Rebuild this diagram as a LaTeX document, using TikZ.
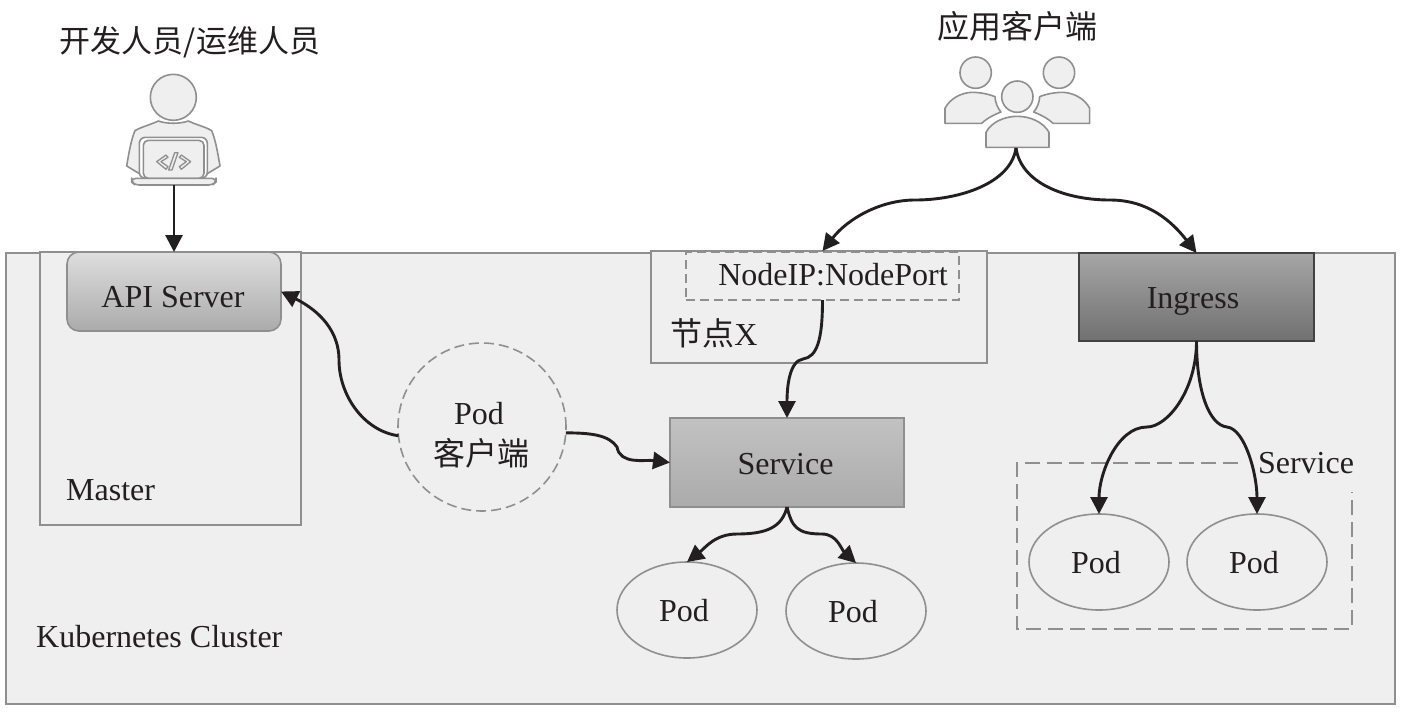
\documentclass[tikz,border=0pt]{standalone}
\usepackage{fontspec}
\setmainfont{Liberation Serif}
\newfontfamily\cjk{Noto Sans CJK SC}
\usetikzlibrary{arrows.meta,shapes.geometric}
\definecolor{ink}{HTML}{231F20}
\definecolor{edgegray}{HTML}{8F8F8F}
\definecolor{panel}{HTML}{EFEFEF}
\tikzset{
  lbl/.style={inner sep=0pt,text=ink,font=\fontsize{32}{37}\selectfont},
  boxbase/.style={draw=edgegray,line width=1.6pt,minimum width=0pt,inner sep=0pt,outer sep=0pt},
  conn/.style={draw=ink,line width=2.9pt,-{Triangle[length=17pt,width=17pt]}},
  podshape/.style={ellipse,draw=edgegray,fill=panel,line width=1.6pt,minimum width=140pt,minimum height=96pt,inner sep=0pt,outer sep=0pt,lbl},
  icon/.style={draw=edgegray,fill=panel,line width=1.6pt,line join=round},
}
\newcommand{\podtext}{\hspace*{-6pt}\raisebox{-11.5pt}[0pt][0pt]{Pod}}
\begin{document}
\begin{tikzpicture}[x=1pt,y=-1pt]
\useasboundingbox (0,0) rectangle (1402,713);
% panels
\node[boxbase,fill=panel,anchor=north west,minimum width=1389pt,minimum height=451pt] (cluster) at (6,253) {};
\node[boxbase,fill=panel,anchor=north west,minimum width=261pt,minimum height=273pt] (master) at (40,252) {};
\node[boxbase,fill=panel,anchor=north west,minimum width=336pt,minimum height=112pt] (nodex) at (651,251) {};
\node[boxbase,dash pattern=on 9pt off 5pt,fill=panel,anchor=north west,minimum width=273pt,minimum height=48pt] (nodeport) at (686,252) {};
\node[boxbase,rounded corners=12pt,top color=black!13,bottom color=black!33,anchor=north west,minimum width=214pt,minimum height=79pt,lbl] (api) at (67,252) {\hspace*{-2pt}\raisebox{-15.5pt}[0pt][0pt]{API Server}};
\node[boxbase,top color=black!24,bottom color=black!33,anchor=north west,minimum width=234pt,minimum height=89pt,lbl] (service) at (670,418) {\hspace*{-3pt}\raisebox{-11.5pt}[0pt][0pt]{Service}};
\node[boxbase,draw=ink!85,line width=2.2pt,top color=black!35,bottom color=black!56,anchor=north west,minimum width=235pt,minimum height=88pt,lbl] (ingress) at (1079,253) {\hspace*{-7pt}\raisebox{-11pt}[0pt][0pt]{Ingress}};
\node[circle,draw=edgegray,dash pattern=on 10pt off 5pt,line width=1.6pt,fill=panel,minimum size=168pt,inner sep=0pt,outer sep=0pt] (podclient) at (482,427) {};
% texts
\node[lbl,font=\fontsize{31}{36}\selectfont] (t1) at (190,42) {\cjk 开发人员/运维人员};
\node[lbl] (t2) at (1017,26) {\cjk 应用客户端};
\node[lbl] (t3) at (833,275) {NodeIP:NodePort};
\node[lbl] (t4) at (714,333) {{\cjk 节点}X};
\node[lbl] (t5) at (479,414) {Pod};
\node[lbl] (t6) at (481,453) {\cjk 客户端};
\node[lbl,anchor=west] (t7) at (66,490) {Master};
\node[lbl,anchor=west] (t8) at (36,637) {Kubernetes Cluster};
\node[lbl] (t9) at (1306,463) {Service};
% pods
\node[podshape] (p1) at (687,610) {\podtext};
\node[podshape] (p2) at (856,611) {\podtext};
\node[podshape] (p3) at (1099,562) {\podtext};
\node[podshape] (p4) at (1257,562) {\podtext};
% dashed service group
\coordinate (g1) at (1238,463);
\coordinate (g2) at (1017,463);
\coordinate (g3) at (1017,629);
\coordinate (g4) at (1352,629);
\coordinate (g5) at (1352,492);
\draw[draw=edgegray,line width=1.8pt,dash pattern=on 15pt off 7pt] (g1) -- (g2) -- (g3) -- (g4) -- (g5);
% developer icon
\begin{scope}[shift={(100,60)},x=0.3333pt,y=-0.3333pt]
  \draw[icon] (125,345) -- (80,318) .. controls (88,270) and (95,235) .. (105,212) .. controls (125,200) and (150,195) .. (175,183) .. controls (200,192) and (240,192) .. (265,183) .. controls (290,195) and (315,200) .. (335,212) .. controls (345,235) and (352,270) .. (360,318) -- (315,345) -- cycle;
  \draw[icon,fill=white,rounded corners=6pt] (118,355) -- (118,232) -- (322,232) -- (322,355) -- cycle;
  \draw[icon,rounded corners=5pt] (130,355) -- (130,241) -- (312,241) -- (312,355) -- cycle;
  \draw[icon,rounded corners=4pt] (95,355) -- (348,355) -- (348,366) -- (338,375) -- (105,375) -- (95,366) -- cycle;
  \draw[icon] (220,112) circle[radius=69];
  \draw[icon,fill=none,line width=1.3pt] (198,285) -- (170,305) -- (198,328) -- (204,320) -- (183,305) -- (204,292) -- cycle;
  \draw[icon,fill=none,line width=1.3pt] (244,285) -- (272,305) -- (244,328) -- (238,320) -- (259,305) -- (238,292) -- cycle;
  \draw[icon,fill=none,line width=1.3pt] (224,278) -- (234,278) -- (216,330) -- (206,330) -- cycle;
\end{scope}
\coordinate (devfoot) at (174,185);
% clients icon
\begin{scope}[shift={(930,45)},x=0.3333pt,y=-0.3333pt]
  \draw[icon] (137,83) circle[radius=47];
  \draw[icon] (387,83) circle[radius=47];
  \draw[icon] (45,235) -- (45,190) .. controls (60,160) and (95,143) .. (125,142) .. controls (150,142) and (175,147) .. (195,155) .. controls (195,170) and (203,190) .. (213,201) .. controls (195,208) and (170,220) .. (155,235) -- cycle;
  \draw[icon] (479,235) -- (479,190) .. controls (464,160) and (429,143) .. (399,142) .. controls (374,142) and (349,147) .. (329,155) .. controls (329,170) and (321,190) .. (311,201) .. controls (329,208) and (354,220) .. (369,235) -- cycle;
  \draw[icon] (262,155) circle[radius=47];
  \draw[icon] (168,307) -- (168,262) .. controls (185,230) and (225,214) .. (262,214) .. controls (299,214) and (339,230) .. (357,262) -- (357,307) -- cycle;
\end{scope}
\coordinate (cltfoot) at (1016,148);
% connectors
\coordinate (m1) at (915,200);
\coordinate (m2) at (1110,200);
\coordinate (m3) at (339,360);
\coordinate (m4) at (617,447);
\coordinate (m5) at (803,359);
\coordinate (m6) at (737,534);
\coordinate (m7) at (822,534);
\coordinate (m8) at (1147,427);
\coordinate (m9) at (1227,427);
\draw[conn] (devfoot) -- (api.north);
\draw[conn] (cltfoot) .. controls +(-5,35) and +(45,0) .. (m1) .. controls +(-35,0) and +(25,-32) .. (nodex.north -| nodeport.north);
\draw[conn] (cltfoot) .. controls +(5,35) and +(-45,0) .. (m2) .. controls +(38,0) and +(-25,-32) .. (ingress.north);
\draw[conn] (podclient.186) .. controls +(-35,-5) and +(0,35) .. (m3) .. controls +(0,-35) and +(30,15) .. (api.east);
\draw[conn] (podclient.356) .. controls +(25,0) and +(-8,-12) .. (m4) .. controls +(3,18) and +(-25,-3) .. (service.west);
\draw[conn] (nodeport.south) .. controls +(0,40) and +(14,-2) .. (m5) .. controls +(-14,2) and +(0,-30) .. (service.north);
\draw[conn] (service.south) .. controls +(-5,20) and +(30,0) .. (m6) .. controls +(-22,0) and +(18,-14) .. (p1.north);
\draw[conn] (service.south) .. controls +(5,20) and +(-25,0) .. (m7) .. controls +(15,0) and +(-15,-14) .. (p2.north);
\draw[conn] (ingress.south) .. controls +(0,50) and +(20,0) .. (m8) .. controls +(-30,0) and +(0,-40) .. (p3.north);
\draw[conn] (ingress.south) .. controls +(0,50) and +(-18,-2) .. (m9) .. controls +(18,2) and +(0,-40) .. (p4.north);
\end{tikzpicture}
\end{document}
